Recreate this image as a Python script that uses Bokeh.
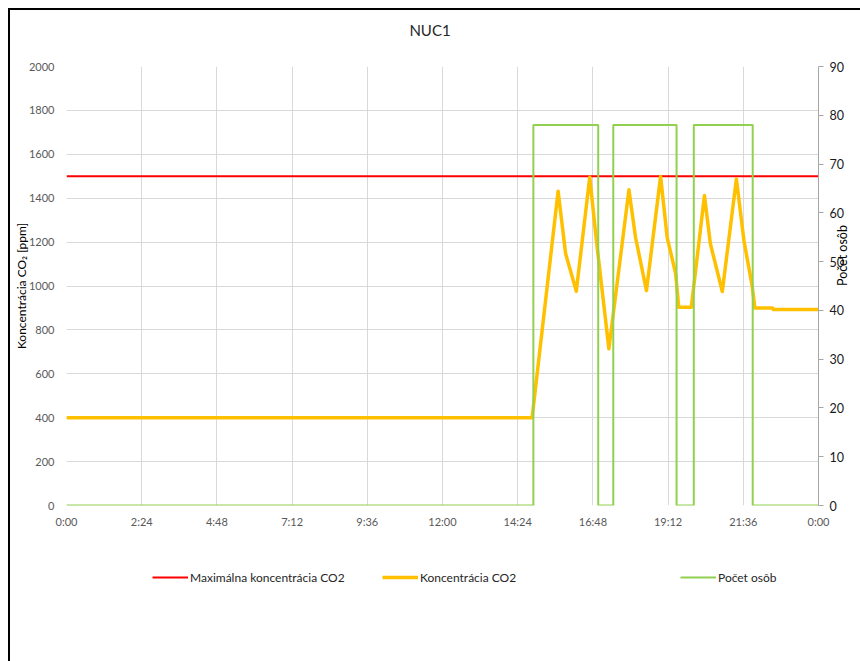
from bokeh.plotting import figure
from bokeh.models import (Range1d, LinearAxis, FixedTicker, Legend, LegendItem,
                          Div, Spacer)
from bokeh.layouts import column, row
from bokeh.embed import file_html
from bokeh.resources import INLINE
import math

FONT = "Lato"

# ---- data ----
x_tick_hours = [0, 2.4, 4.8, 7.2, 9.6, 12.0, 14.4, 16.8, 19.2, 21.6, 24.0]
x_tick_labels = ["0:00", "2:24", "4:48", "7:12", "9:36", "12:00", "14:24",
                 "16:48", "19:12", "21:36", "0:00"]
left_ticks = [0, 200, 400, 600, 800, 1000, 1200, 1400, 1600, 1800, 2000]
right_ticks = [0, 10, 20, 30, 40, 50, 60, 70, 80, 90]

max_hours = [0, 24]
max_ppm = [1500, 1500]

co2_hours = [0, 14.86, 15.69, 15.93, 16.27, 16.70, 16.90, 17.31, 17.95, 18.16,
             18.51, 18.96, 19.17, 19.44, 19.54, 19.94, 20.36, 20.55, 20.93,
             21.38, 21.62, 21.88, 21.97, 22.53, 22.56, 24.0]
co2_ppm = [400, 400, 1432, 1147, 976, 1496, 1222, 714, 1438, 1222,
           979, 1499, 1222, 1056, 903, 903, 1412, 1192, 975,
           1488, 1207, 1002, 900, 900, 893, 893]

person_hours = [0, 14.90, 16.97, 17.45, 19.47, 20.02, 21.90, 24.0]
person_count = [0, 78, 0, 78, 0, 78, 0, 0]

series_names = ["Maximálna koncentrácia CO2", "Koncentrácia CO2", "Počet osôb"]
series_colors = ["#ff0000", "#ffc000", "#92d050"]
series_widths = [2, 3.5, 2]

BL, BR = 56, 42   # left / right borders of the plotting frame

# ---- title ----
title_div = Div(
    text='<div style="width:840px;text-align:center;font-family:Lato;'
         'font-size:15px;line-height:40px;color:#262626">NUC1</div>',
    width=850, height=40, margin=0)

# ---- main figure ----
p = figure(width=850, height=490, output_backend="svg", toolbar_location=None,
           x_range=Range1d(0, 24), y_range=Range1d(0, 2000),
           min_border_left=BL, min_border_right=BR, min_border_top=16,
           min_border_bottom=35)
p.title.visible = False
p.extra_y_ranges = {"persons": Range1d(0, 90)}
p.outline_line_color = None
p.background_fill_color = "white"
p.border_fill_color = "white"

# x axis
xa = p.xaxis[0]
xa.ticker = FixedTicker(ticks=x_tick_hours)
xa.major_label_overrides = {t: l for t, l in zip(x_tick_hours, x_tick_labels)}
xa.axis_line_color = None
xa.major_tick_line_color = None
xa.major_tick_out = 0
xa.major_tick_in = 0
xa.minor_tick_line_color = None
xa.major_label_standoff = 9
xa.major_label_text_font = FONT
xa.major_label_text_font_size = "11px"
xa.major_label_text_color = "#595959"

# left axis
ya = p.yaxis[0]
ya.ticker = FixedTicker(ticks=left_ticks)
ya.axis_line_color = None
ya.major_tick_line_color = None
ya.major_tick_out = 0
ya.major_tick_in = 0
ya.minor_tick_line_color = None
ya.major_label_standoff = 12
ya.major_label_text_font = FONT
ya.major_label_text_font_size = "11px"
ya.major_label_text_color = "#595959"
ya.axis_label = "Koncentrácia CO₂ [ppm]"
ya.axis_label_text_font = FONT
ya.axis_label_text_font_size = "12px"
ya.axis_label_text_font_style = "normal"
ya.axis_label_text_color = "#000000"
ya.axis_label_standoff = -3

# right axis
ra = LinearAxis(y_range_name="persons", ticker=FixedTicker(ticks=right_ticks))
ra.axis_line_color = "#a6a6a6"
ra.major_tick_line_color = "#a6a6a6"
ra.major_tick_out = 5
ra.major_tick_in = 0
ra.minor_tick_line_color = None
ra.major_label_standoff = 6
ra.major_label_text_font = FONT
ra.major_label_text_font_size = "12.5px"
ra.major_label_text_color = "#1a1a1a"
ra.axis_label = "Počet osôb"
ra.axis_label_text_font = FONT
ra.axis_label_text_font_size = "12.5px"
ra.axis_label_text_font_style = "normal"
ra.axis_label_text_color = "#000000"
ra.axis_label_text_line_height = 0.9
ra.axis_label_standoff = -4
ra.axis_label_orientation = math.pi / 2
p.add_layout(ra, "right")

# grid
p.xgrid.ticker = FixedTicker(ticks=x_tick_hours)
p.ygrid.ticker = FixedTicker(ticks=left_ticks)
for g in (p.xgrid[0], p.ygrid[0]):
    g.grid_line_color = "#d9d9d9"
    g.grid_line_width = 1

# series
p.line(max_hours, max_ppm, line_color=series_colors[0], line_width=series_widths[0])
p.line(co2_hours, co2_ppm, line_color=series_colors[1], line_width=series_widths[1],
       line_join="round")
p.step(person_hours, person_count, mode="after", y_range_name="persons",
       line_color=series_colors[2], line_width=series_widths[2])

# ---- legend strip ----
pl = figure(width=850, height=121, output_backend="svg", toolbar_location=None,
            x_range=Range1d(0, 1), y_range=Range1d(0, 1),
            min_border_left=BL, min_border_right=BR, min_border_top=0,
            min_border_bottom=0)
pl.title.visible = False
pl.axis.visible = False
pl.grid.visible = False
pl.outline_line_color = None

leg_x = [86, 316, 614]   # offsets from the frame's left edge
for name, col, w, lx in zip(series_names, series_colors, series_widths, leg_x):
    r = pl.line([0], [float("nan")], line_color=col, line_width=w)
    leg = Legend(items=[LegendItem(label=name, renderers=[r])],
                 location=(lx, 76), orientation="horizontal",
                 padding=0, margin=0, spacing=0, glyph_width=36,
                 glyph_height=16, label_standoff=2, border_line_color=None,
                 background_fill_alpha=0, label_text_font=FONT,
                 label_text_font_size="12px", label_text_color="#262626")
    pl.add_layout(leg, "center")

inner = column(title_div, p, pl,
               styles={"border-left": "2px solid black",
                       "border-top": "2px solid black"})
root = column(Spacer(height=8, width=860), row(Spacer(width=8, height=10), inner))

open("out.html", "w").write(file_html(root, INLINE))
